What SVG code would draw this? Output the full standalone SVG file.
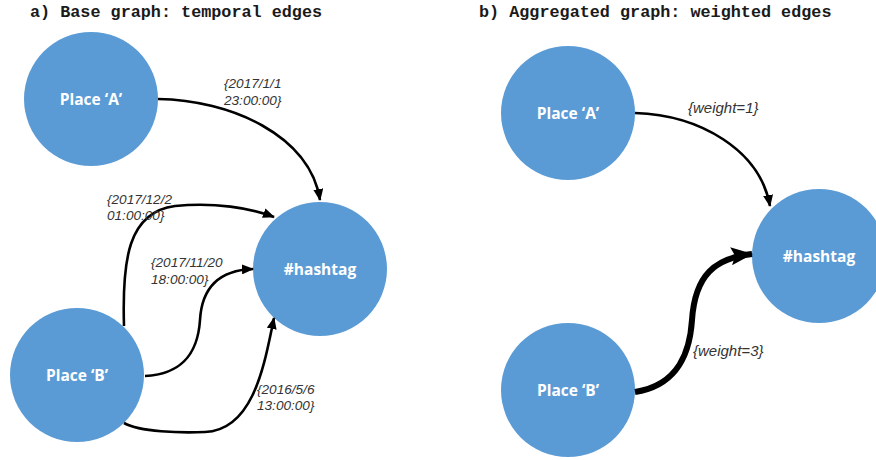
<svg xmlns="http://www.w3.org/2000/svg" width="876" height="460" viewBox="0 0 876 460">
<style>
.title{font-family:"Liberation Mono",monospace;font-weight:bold;font-size:16.8px;fill:#1a1a1a}
.node{fill:#5B9BD5}
.nl{font-family:"Open Sans","Liberation Sans",sans-serif;font-weight:bold;font-size:15.5px;fill:#fff;text-anchor:middle}
.el{font-family:"Liberation Sans",sans-serif;font-style:italic;font-size:13.6px;fill:#333}
.ew{font-size:15px}
.e{fill:none;stroke:#000;stroke-width:2.6}
.e3{fill:none;stroke:#000;stroke-width:6}
</style>
<defs>
<marker id="ah" markerUnits="userSpaceOnUse" markerWidth="12" markerHeight="10" refX="11" refY="5" orient="auto"><path d="M0,0 L12,5 L0,10 Z" fill="#000"/></marker>
<marker id="ahb" markerUnits="userSpaceOnUse" markerWidth="22" markerHeight="18" refX="21" refY="9" orient="auto"><path d="M0,0 L22,9 L0,18 L4,9 Z" fill="#000"/></marker>
</defs>
<rect width="876" height="460" fill="#fff"/>
<text class="title" x="30" y="17">a) Base graph: temporal edges</text>
<text class="title" x="479" y="17">b) Aggregated graph: weighted edges</text>
<g id="a_A"><circle class="node" cx="91" cy="99" r="67"/><text class="nl" x="91" y="105">Place ‘A’</text></g>
<g id="a_H"><circle class="node" cx="320" cy="269" r="67"/><text class="nl" x="320" y="275">#hashtag</text></g>
<g id="a_B"><circle class="node" cx="77" cy="375" r="67"/><text class="nl" x="77" y="381">Place ‘B’</text></g>
<g id="b_A"><circle class="node" cx="568" cy="113" r="67"/><text class="nl" x="568" y="119">Place ‘A’</text></g>
<g id="b_H"><circle class="node" cx="819" cy="256" r="67"/><text class="nl" x="819" y="262">#hashtag</text></g>
<g id="b_B"><circle class="node" cx="568" cy="390" r="67"/><text class="nl" x="568" y="396">Place ‘B’</text></g>
<g id="connectors">
<path class="e" d="M158,99 C230,100 310,135 320,200" marker-end="url(#ah)"/>
<path class="e" d="M124,326 C122,260 128,212 175,206 C215,202 250,208 274,217" marker-end="url(#ah)"/>
<path class="e" d="M145,376 C185,374 198,350 200,320 C202,285 222,270 253,269" marker-end="url(#ah)"/>
<path class="e" d="M124,423 C140,432 180,433 205,432 C255,430 265,360 274,318" marker-end="url(#ah)"/>
<path class="e" d="M635,113 C700,115 760,150 770,206" marker-end="url(#ah)"/>
<path class="e3" d="M635,392 C680,385 690,350 692,320 C695,275 715,258 752,254" marker-end="url(#ahb)"/>
</g>
<g id="labels">
<text class="el" x="224" y="88">{2017/1/1</text>
<text class="el" x="224" y="105">23:00:00}</text>
<text class="el" x="107" y="204">{2017/12/2</text>
<text class="el" x="107" y="220">01:00:00}</text>
<text class="el" x="151" y="267">{2017/11/20</text>
<text class="el" x="151" y="284">18:00:00}</text>
<text class="el" x="257" y="394">{2016/5/6</text>
<text class="el" x="257" y="410">13:00:00}</text>
<text class="el ew" x="688" y="113">{weight=1}</text>
<text class="el ew" x="693" y="356">{weight=3}</text>
</g>
</svg>
